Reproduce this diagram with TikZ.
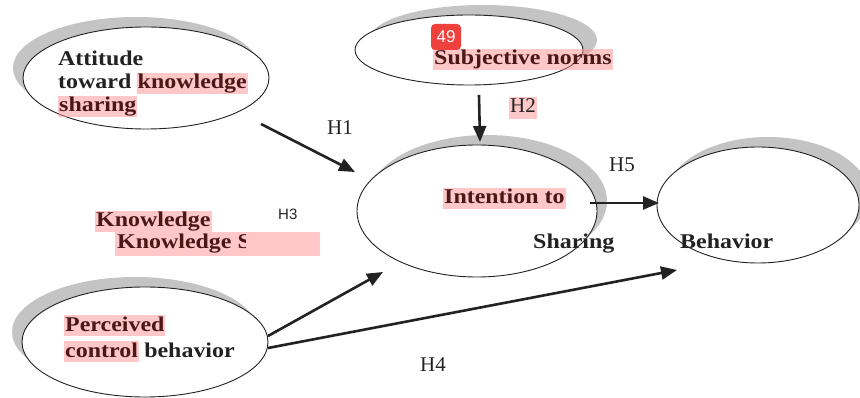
\documentclass[tikz,border=0pt]{standalone}
\usepackage{fontspec}
\setmainfont{Liberation Serif}
\newfontfamily\wbold[FakeStretch=1.14]{Liberation Serif Bold}
\newfontfamily\hsans{Liberation Sans}
\usetikzlibrary{arrows.meta,shadows,shapes.geometric}
\definecolor{ink}{HTML}{222222}
\definecolor{hl}{HTML}{FF9090}
\definecolor{hltxt}{HTML}{4A1818}
\definecolor{shade}{HTML}{C4C4C4}
\definecolor{badge}{HTML}{F0403C}
\tikzset{
  ell/.style={ellipse, draw=ink, line width=0.9pt, fill=white, inner sep=0pt},
  lbl/.style={font=\wbold\fontsize{21}{24}\selectfont, inner sep=0pt, anchor=base west, text=ink},
  hlb/.style={lbl, fill=hl, fill opacity=0.5, text opacity=1, text=hltxt, text height=16pt, text depth=5pt, inner xsep=1pt},
  hyp/.style={font=\fontsize{21}{24}\selectfont, inner sep=0pt, anchor=base west, text=ink},
  arr/.style={draw=ink, line width=2.6pt, -{Triangle[length=16pt,width=13pt]}}
}
\begin{document}
\begin{tikzpicture}[x=1pt,y=-1pt]
\useasboundingbox (0,0) rectangle (860,398);
% ellipses with offset shadows
\node[ell, minimum width=246pt, minimum height=102pt,
  general shadow={shadow xshift=-10pt, shadow yshift=10pt, fill=shade}] (att) at (146,78) {};
\node[ell, minimum width=228pt, minimum height=70pt,
  general shadow={shadow xshift=14pt, shadow yshift=10pt, fill=shade}] (subj) at (469,50) {};
\node[ell, minimum width=240pt, minimum height=132pt,
  general shadow={shadow xshift=10pt, shadow yshift=10pt, fill=shade}] (int) at (477,211) {};
\node[ell, minimum width=202pt, minimum height=116pt,
  general shadow={shadow xshift=10pt, shadow yshift=10pt, fill=shade}] (beh) at (758,205) {};
\node[ell, minimum width=246pt, minimum height=110pt,
  general shadow={shadow xshift=-10pt, shadow yshift=10pt, fill=shade}] (perc) at (145,342) {};
% texts
\node[lbl] (t1) at (58,66) {Attitude};
\node[lbl] (t2) at (58,89) {toward};
\node[hlb, anchor=base west] (t3) at ([xshift=5pt]t2.base east) {knowledge};
\node[hlb] (t4) at (58,112) {sharing};
\node[hlb] (s1) at (433,65) {Subjective norms};
\node[hlb] (i1) at (443,204) {Intention to};
\node[lbl] (i2) at (533,249) {Sharing};
\node[lbl] (b1) at (680,249) {Behavior};
\node[hlb] (k1) at (95,227) {Knowledge};
\fill[hl, fill opacity=0.5] (115,232) rectangle (320,256);
\begin{scope}
\clip (110,228) rectangle (245,260);
\node[lbl, text=hltxt] (k2) at (117,249) {Knowledge S};
\end{scope}
\node[hlb] (p1) at (64,331) {Perceived};
\node[hlb] (p2) at (64,357) {control};
\node[lbl, anchor=base west] (p3) at ([xshift=5pt]p2.base east) {behavior};
% hypotheses
\node[hyp] (H1) at (327,135) {H1};
\node[hyp, fill=hl, fill opacity=0.5, text opacity=1, text height=16pt, text depth=6pt, inner xsep=1pt] (H2) at (509,113) {H2};
\node[font=\hsans\fontsize{15}{18}\selectfont, inner sep=0pt, anchor=base west, text=ink] (H3) at (278,220) {H3};
\node[hyp] (H4) at (420,371) {H4};
\node[hyp] (H5) at (609,172) {H5};
% badge
\node[fill=badge, rounded corners=4pt, minimum width=30pt, minimum height=26pt, inner sep=0pt,
  text=white, font=\hsans\fontsize{17}{20}\selectfont] (badge49) at (446,37) {49};
% connectors
\coordinate (a1s) at (261,124); \coordinate (a1e) at (355,172);
\coordinate (a2s) at (479,95);  \coordinate (a2e) at (480,142);
\coordinate (a5s) at (590,203); \coordinate (a5e) at (659,203);
\coordinate (a3s) at (268,336); \coordinate (a3e) at (383,272);
\coordinate (a4s) at (268,348); \coordinate (a4e) at (677,270);
\draw[arr] (a1s) -- (a1e);
\draw[arr] (a2s) -- (a2e);
\draw[arr] (a5s) -- (a5e);
\draw[arr] (a3s) -- (a3e);
\draw[arr] (a4s) -- (a4e);
\end{tikzpicture}
\end{document}
